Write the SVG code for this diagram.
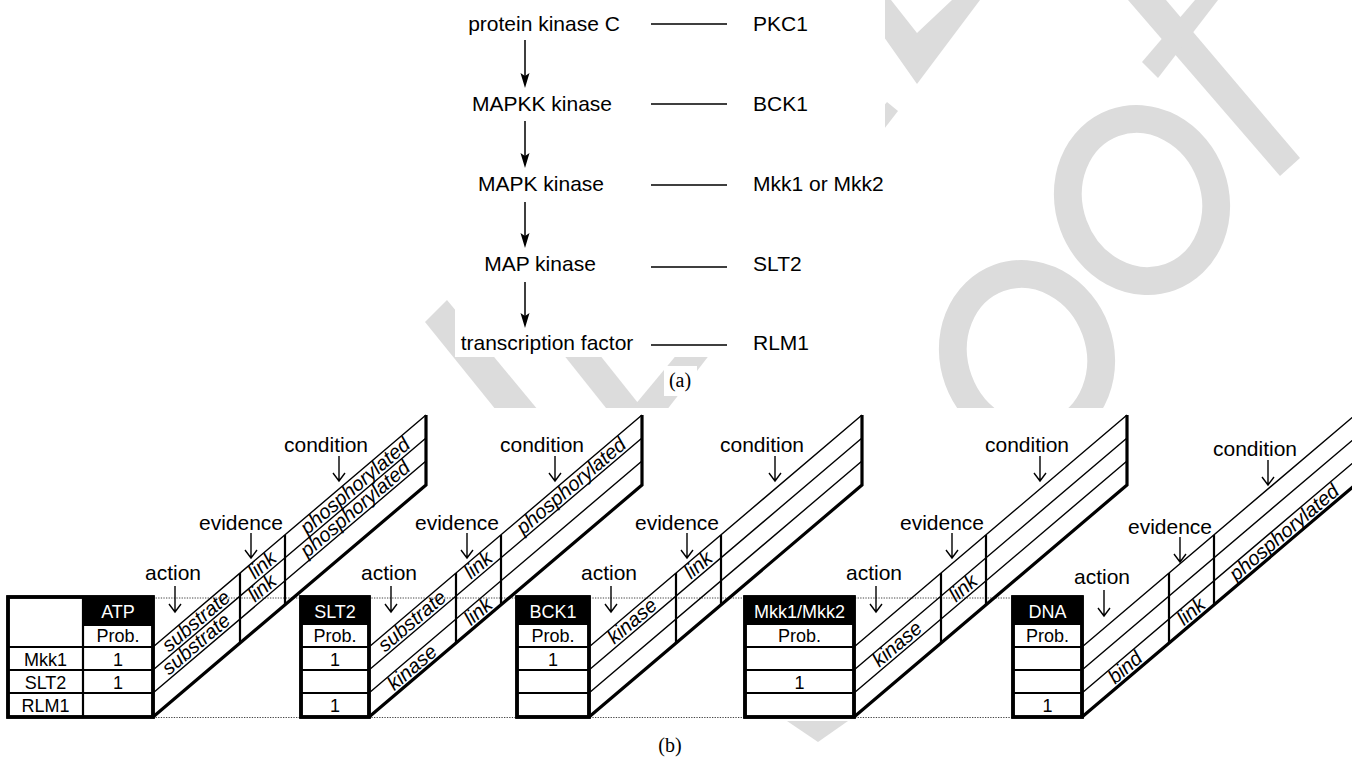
<svg xmlns="http://www.w3.org/2000/svg" xmlns:xlink="http://www.w3.org/1999/xlink" width="1352" height="759" viewBox="0 0 1352 759">
<style>
text { font-family: "Liberation Sans", Arial, Helvetica, sans-serif; fill: #000; }
.lab { font-size: 21px; }
.mid { text-anchor: middle; }
.cap { font-family: "Liberation Serif", "Times New Roman", serif; font-size: 20px; text-anchor: middle; }
.cell { font-size: 18px; text-anchor: middle; }
.hdr { fill: #fff; }
.st { font-size: 20px; font-style: italic; text-anchor: middle; }
.ln { stroke: #000; stroke-width: 1.5; fill: none; }
.thin { stroke: #000; stroke-width: 1.4; fill: none; }
.div { stroke: #000; stroke-width: 2.2; fill: none; }
.thick { stroke: #000; stroke-width: 3.2; fill: none; stroke-linejoin: miter; }
.inner { stroke: #000; stroke-width: 2.2; fill: none; }
.outer { stroke: #000; stroke-width: 3.5; fill: #fff; }
.dot { stroke: #444; stroke-width: 1; stroke-dasharray: 1.3 1.3; fill: none; }
.head { fill: #000; stroke: none; }
.wm { fill: #dcdcdc; stroke: none; }
.wmo { fill: none; stroke: #dcdcdc; stroke-width: 28; }
.bg { fill: #fff; stroke: none; }
</style>
<defs>
  <g id="strip">
    <path class="thin" d="M0 647 L273 415 M0 670 L273 438 M0 693 L273 461"/>
    <path class="div" d="M87 573 V643 M132 535 V605"/>
    <path class="thick" d="M0 717 L273 485 L273 415"/>
  </g>
  <g id="labels">
    <text class="lab mid" x="20" y="580">action</text>
    <path class="thin" d="M22 586 V612 M16 604 L22 612 L28 604"/>
    <text class="lab mid" x="88" y="530">evidence</text>
    <path class="thin" d="M98 533 V558 M92 550 L98 558 L104 550"/>
    <text class="lab mid" x="173" y="452">condition</text>
    <path class="thin" d="M186 456 V481 M180 473 L186 481 L192 473"/>
  </g>
  <path id="ahead" d="M-4.5 -15 L0 0 L4.5 -15 L0 -12 Z"/>
</defs>

<!-- light background watermark, partly covered by the figure panels -->
<g id="watermark">
  <polygon class="wm" points="425,322 447,300 538,410 496,410"/>
  <polygon class="wm" points="520,300 556,300 642,408 606,408"/>
  <polygon class="wm" points="634,406 887,102 898,111 656,424"/>
  <polygon class="wm" points="858,0 891,0 917,33 952,0 980,0 917,84"/>
  <ellipse class="wmo" cx="1142" cy="200" rx="73" ry="82" transform="rotate(-20 1142 200)"/>
  <ellipse class="wmo" cx="1027" cy="355" rx="73" ry="82" transform="rotate(-20 1027 355)"/>
  <polygon class="wm" points="1128,0 1166,0 1300,158 1280,176"/>
  <polygon class="wm" points="1142,62 1195,0 1218,0 1158,78"/>
  <polygon class="wm" points="787,721 848,721 818,742"/>
  <rect class="bg" x="455" y="0" width="430" height="357"/>
  <rect class="bg" x="664" y="366" width="33" height="30"/>
  <rect class="bg" x="0" y="408" width="1352" height="313"/>
</g>

<!-- (a) pathway -->
<g id="connectors">
  <path class="ln" d="M525 40 V84 M525 121 V165 M525 202 V245 M525 282 V325"/>
  <use xlink:href="#ahead" href="#ahead" x="525" y="88" class="head"/>
  <use xlink:href="#ahead" href="#ahead" x="525" y="168" class="head"/>
  <use xlink:href="#ahead" href="#ahead" x="525" y="248" class="head"/>
  <use xlink:href="#ahead" href="#ahead" x="525" y="328" class="head"/>
  <path class="ln" d="M651 24 H727 M651 104 H727 M651 185 H727 M651 267 H727 M651 345 H727"/>
</g>
<g id="node-pkc">
  <text class="lab mid" x="544" y="31">protein kinase C</text>
  <text class="lab" x="753" y="31">PKC1</text>
</g>
<g id="node-mapkkk">
  <text class="lab mid" x="542" y="111">MAPKK kinase</text>
  <text class="lab" x="753" y="111">BCK1</text>
</g>
<g id="node-mapkk">
  <text class="lab mid" x="541" y="191">MAPK kinase</text>
  <text class="lab" x="753" y="191">Mkk1 or Mkk2</text>
</g>
<g id="node-mapk">
  <text class="lab mid" x="540" y="271">MAP kinase</text>
  <text class="lab" x="753" y="271">SLT2</text>
</g>
<g id="node-tf">
  <text class="lab mid" x="547" y="350">transcription factor</text>
  <text class="lab" x="753" y="350">RLM1</text>
</g>
<text class="cap" x="680" y="387">(a)</text>

<!-- (b) tables -->
<g id="guides">
  <path class="dot" d="M153 598 H1013 M153 717.5 H1013"/>
</g>

<g id="table-atp">
  <use xlink:href="#strip" href="#strip" x="153"/>
  <use xlink:href="#labels" href="#labels" x="153"/>
  <rect class="outer" x="8" y="597" width="145" height="120"/>
  <rect x="83" y="597" width="70" height="28" fill="#000"/>
  <path class="inner" d="M83 597 V717 M83 625 H153 M8 647 H153 M8 670 H153 M8 693 H153"/>
  <rect x="8" y="597" width="145" height="120" fill="none" stroke="#000" stroke-width="3.5"/>
  <text class="cell hdr" x="118" y="618">ATP</text>
  <text class="cell" x="118" y="642">Prob.</text>
  <text class="cell" x="45.5" y="666">Mkk1</text>
  <text class="cell" x="45.5" y="689">SLT2</text>
  <text class="cell" x="45.5" y="712">RLM1</text>
  <text class="cell" x="118" y="666">1</text>
  <text class="cell" x="118" y="689">1</text>
  <g transform="translate(196.5 621.5) rotate(-40.36)"><text class="st" y="6">substrate</text></g>
  <g transform="translate(196.5 644.5) rotate(-40.36)"><text class="st" y="6">substrate</text></g>
  <g transform="translate(262.5 565.4) rotate(-40.36)"><text class="st" y="6">link</text></g>
  <g transform="translate(262.5 588.4) rotate(-40.36)"><text class="st" y="6">link</text></g>
  <g transform="translate(355.5 486.4) rotate(-40.36)"><text class="st" y="6">phosphorylated</text></g>
  <g transform="translate(355.5 509.4) rotate(-40.36)"><text class="st" y="6">phosphorylated</text></g>
</g>

<g id="table-slt2">
  <use xlink:href="#strip" href="#strip" x="369"/>
  <use xlink:href="#labels" href="#labels" x="369"/>
  <rect class="outer" x="301" y="597" width="68" height="120"/>
  <rect x="301" y="597" width="68" height="28" fill="#000"/>
  <path class="inner" d="M301 647 H369 M301 670 H369 M301 693 H369"/>
  <rect x="301" y="597" width="68" height="120" fill="none" stroke="#000" stroke-width="3.5"/>
  <text class="cell hdr" x="335" y="618">SLT2</text>
  <text class="cell" x="335" y="642">Prob.</text>
  <text class="cell" x="335" y="666">1</text>
  <text class="cell" x="335" y="712">1</text>
  <g transform="translate(412.5 621.5) rotate(-40.36)"><text class="st" y="6">substrate</text></g>
  <g transform="translate(412.5 668) rotate(-40.36)"><text class="st" y="6">kinase</text></g>
  <g transform="translate(478.5 565.4) rotate(-40.36)"><text class="st" y="6">link</text></g>
  <g transform="translate(478.5 611.9) rotate(-40.36)"><text class="st" y="6">link</text></g>
  <g transform="translate(571.5 486.4) rotate(-40.36)"><text class="st" y="6">phosphorylated</text></g>
</g>

<g id="table-bck1">
  <use xlink:href="#strip" href="#strip" x="589"/>
  <use xlink:href="#labels" href="#labels" x="589"/>
  <rect class="outer" x="517" y="597" width="72" height="120"/>
  <rect x="517" y="597" width="72" height="28" fill="#000"/>
  <path class="inner" d="M517 647 H589 M517 670 H589 M517 693 H589"/>
  <rect x="517" y="597" width="72" height="120" fill="none" stroke="#000" stroke-width="3.5"/>
  <text class="cell hdr" x="553" y="618">BCK1</text>
  <text class="cell" x="553" y="642">Prob.</text>
  <text class="cell" x="553" y="666">1</text>
  <g transform="translate(632.5 621.5) rotate(-40.36)"><text class="st" y="6">kinase</text></g>
  <g transform="translate(698.5 565.4) rotate(-40.36)"><text class="st" y="6">link</text></g>
</g>

<g id="table-mkk">
  <use xlink:href="#strip" href="#strip" x="854"/>
  <use xlink:href="#labels" href="#labels" x="854"/>
  <rect class="outer" x="745" y="597" width="109" height="120"/>
  <rect x="745" y="597" width="109" height="28" fill="#000"/>
  <path class="inner" d="M745 647 H854 M745 670 H854 M745 693 H854"/>
  <rect x="745" y="597" width="109" height="120" fill="none" stroke="#000" stroke-width="3.5"/>
  <text class="cell hdr" x="799.5" y="618">Mkk1/Mkk2</text>
  <text class="cell" x="799.5" y="642">Prob.</text>
  <text class="cell" x="799.5" y="689">1</text>
  <g transform="translate(897.5 644.5) rotate(-40.36)"><text class="st" y="6">kinase</text></g>
  <g transform="translate(963.5 588.4) rotate(-40.36)"><text class="st" y="6">link</text></g>
</g>

<g id="table-dna">
  <use xlink:href="#strip" href="#strip" x="1082"/>
  <use xlink:href="#labels" href="#labels" x="1082" y="4"/>
  <rect class="outer" x="1013" y="597" width="69" height="120"/>
  <rect x="1013" y="597" width="69" height="28" fill="#000"/>
  <path class="inner" d="M1013 647 H1082 M1013 670 H1082 M1013 693 H1082"/>
  <rect x="1013" y="597" width="69" height="120" fill="none" stroke="#000" stroke-width="3.5"/>
  <text class="cell hdr" x="1047.5" y="618">DNA</text>
  <text class="cell" x="1047.5" y="642">Prob.</text>
  <text class="cell" x="1047.5" y="712">1</text>
  <g transform="translate(1125.5 668) rotate(-40.36)"><text class="st" y="6">bind</text></g>
  <g transform="translate(1191.5 611.9) rotate(-40.36)"><text class="st" y="6">link</text></g>
  <g transform="translate(1284.5 532.9) rotate(-40.36)"><text class="st" y="6">phosphorylated</text></g>
</g>

<text class="cap" x="670" y="752">(b)</text>
</svg>
